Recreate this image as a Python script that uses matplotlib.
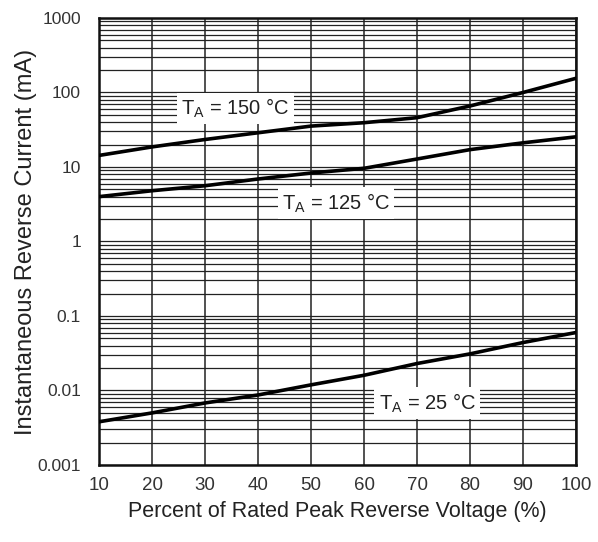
import matplotlib.pyplot as plt
import numpy as np

plt.rcParams['font.family'] = ['Liberation Sans', 'DejaVu Sans']

# percent of rated peak reverse voltage
voltage_pct = [10, 20, 30, 40, 50, 60, 70, 80, 90, 100]

# instantaneous reverse current (mA)
current_150 = [14.3, 18.6, 23.4, 28.8, 35.4, 39.3, 45.9, 65.9, 100, 155]
current_125 = [4.0, 4.8, 5.6, 6.9, 8.3, 9.6, 12.8, 17.1, 21.1, 25.4]
current_25 = [0.0038, 0.0050, 0.0068, 0.0087, 0.0119, 0.016, 0.023, 0.031, 0.044, 0.060]

labels = ['T$_\\mathregular{A}$ = 150 °C', 'T$_\\mathregular{A}$ = 125 °C', 'T$_\\mathregular{A}$ = 25 °C']
label_x = [35.7, 54.7, 71.9]
label_y = [61, 3.3, 0.0068]

y_ticks = [0.001, 0.01, 0.1, 1, 10, 100, 1000]
y_tick_labels = ['0.001', '0.01', '0.1', '1', '10', '100', '1000']

fig = plt.figure(figsize=(5.98, 5.42), dpi=100)
ax = fig.add_axes([0.1656, 0.1421, 0.7976, 0.8247])

ax.set_yscale('log')
ax.set_xlim(10, 100)
ax.set_ylim(0.001, 1000)

# grid: every 10 % vertically, every log minor step horizontally
ax.set_xticks(voltage_pct)
ax.set_yticks(y_ticks)
ax.set_yticklabels(y_tick_labels)
ax.yaxis.set_minor_locator(plt.matplotlib.ticker.LogLocator(base=10, subs=np.arange(2, 10)))
ax.yaxis.set_minor_formatter(plt.matplotlib.ticker.NullFormatter())
ax.grid(True, which='both', axis='y', color='#222222', linewidth=0.9)
ax.grid(True, which='major', axis='x', color='#222222', linewidth=1.1)
ax.set_axisbelow(True)
ax.tick_params(which='both', length=0, colors='#333333')
ax.tick_params(axis='x', pad=9, labelsize=13.5)
ax.tick_params(axis='y', pad=13, labelsize=12.5)

for s in ax.spines.values():
    s.set_linewidth(1.8)
    s.set_color('#111111')

for vals in [current_150, current_125, current_25]:
    ax.plot(voltage_pct, vals, color='black', linewidth=2.6, zorder=3)

for txt, lx, ly in zip(labels, label_x, label_y):
    ax.text(lx, ly, txt, ha='center', va='center', fontsize=14.5, color='#222222', zorder=4,
            bbox=dict(facecolor='white', edgecolor='none', pad=3))

ax.set_xlabel('Percent of Rated Peak Reverse Voltage (%)', fontsize=15.5, color='#222222', labelpad=5)
ax.set_ylabel('Instantaneous Reverse Current (mA)', fontsize=17, color='#222222', labelpad=0)

plt.savefig('out.png', dpi=100, facecolor='white')
